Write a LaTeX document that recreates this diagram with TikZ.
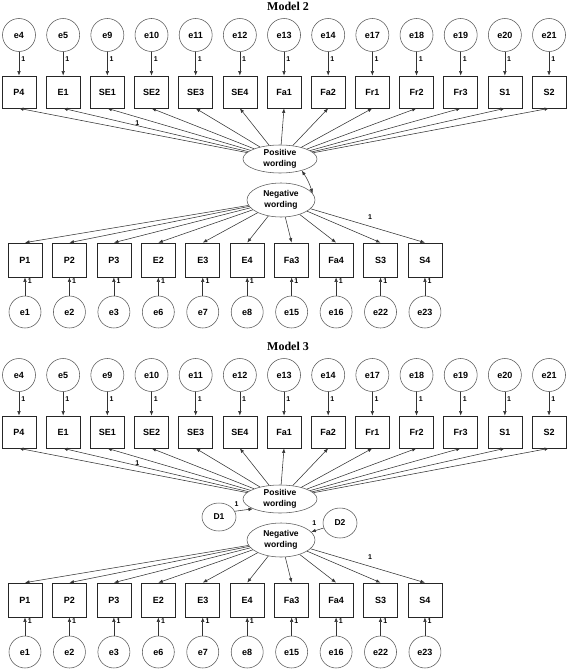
\documentclass[tikz,border=0pt]{standalone}
\usepackage{fontspec}
\setmainfont{Liberation Serif}
\newfontfamily\arialf{Liberation Sans}
\usetikzlibrary{arrows.meta,shapes.geometric}
\tikzset{
  ln/.style={draw=black!80, line width=0.55pt},
  arr/.style={ln, -{Latex[length=4.5pt,width=3.5pt]}},
  darr/.style={ln, {Latex[length=4.5pt,width=3.5pt]}-{Latex[length=4.5pt,width=3.5pt]}},
  obs/.style={rectangle, draw=black!85, line width=0.7pt, minimum width=34pt, minimum height=32pt, inner sep=0pt, font=\arialf\fontsize{9}{10}\selectfont\bfseries},
  obsb/.style={obs, minimum height=34pt},
  err/.style={circle, draw=black!65, line width=0.55pt, minimum size=33pt, inner sep=0pt, font=\arialf\fontsize{9}{10}\selectfont\bfseries},
  lat/.style={ellipse, draw=black!65, line width=0.55pt, inner sep=0pt, align=center, font=\arialf\fontsize{8.5}{11}\selectfont\bfseries},
  one/.style={font=\arialf\fontsize{7}{8}\selectfont\bfseries, inner sep=0.5pt},
  ttl/.style={font=\fontsize{12}{14}\selectfont\bfseries}
}
\newcommand\onemodel[3]{%
  \node[ttl] (#2t) at (288, 6+#1) {#3};
  \node[lat, minimum width=74pt, minimum height=28pt] (#2pw) at (280,159+#1) {Positive\\wording};
  \node[lat, minimum width=68pt, minimum height=34pt] (#2nw) at (281,200+#1) {Negative\\wording};
  \foreach \e/\v [count=\i from 0] in {e4/P4,e5/E1,e9/SE1,e10/SE2,e11/SE3,e12/SE4,e13/Fa1,e14/Fa2,e17/Fr1,e18/Fr2,e19/Fr3,e20/S1,e21/S2} {
    \node[err] (#2e\v) at ({19+44.17*\i}, 35+#1) {\e};
    \node[obs] (#2v\v) at ({19+44.17*\i}, 92+#1) {\v};
    \draw[arr] (#2e\v) -- node[one, right, pos=0.3, xshift=1.5pt] {1} (#2v\v);
  }
  \foreach \v in {E1,SE1,SE2,SE3,SE4,Fa1,Fa2,Fr1,Fr2,Fr3,S1,S2} {
    \draw[arr] (#2pw) -- (#2v\v.south);
  }
  \draw[arr] (#2pw) -- node[one, pos=0.48, above=5pt] {1} (#2vP4.south);
  \foreach \e/\v [count=\i from 0] in {e1/P1,e2/P2,e3/P3,e6/E2,e7/E3,e8/E4,e15/Fa3,e16/Fa4,e22/S3,e23/S4} {
    \node[obsb] (#2w\v) at ({25+44.44*\i}, 260+#1) {\v};
    \node[err, minimum size=32pt] (#2f\v) at ({25+44.44*\i}, 312+#1) {\e};
    \draw[arr] (#2f\v) -- node[one, right, pos=0.8, xshift=2pt] {1} (#2w\v);
  }
  \foreach \v in {P1,P2,P3,E2,E3,E4,Fa3,Fa4,S3} {
    \draw[arr] (#2nw) -- (#2w\v.north);
  }
  \draw[arr] (#2nw) -- node[one, pos=0.52, above=6pt] {1} (#2wS4.north);
}
\begin{document}
\begin{tikzpicture}[x=1pt, y=-1pt]
  \useasboundingbox (0,0) rectangle (568,669);
  \onemodel{0}{A}{Model 2}
  \onemodel{340}{B}{Model 3}
  \draw[darr] (Apw.-28) to[bend left=8] (Anw.12);
  \node[lat, minimum width=34pt, minimum height=28pt] (BD1) at (219,517) {D1};
  \node[lat, minimum width=34pt, minimum height=30pt] (BD2) at (340,523) {D2};
  \draw[arr] (BD1.20) -- node[one, pos=0.1, above=4pt] {1} (Bpw.200);
  \draw[arr] (BD2.197) -- node[one, pos=0.75, above=5pt] {1} (Bnw.15);
\end{tikzpicture}
\end{document}
